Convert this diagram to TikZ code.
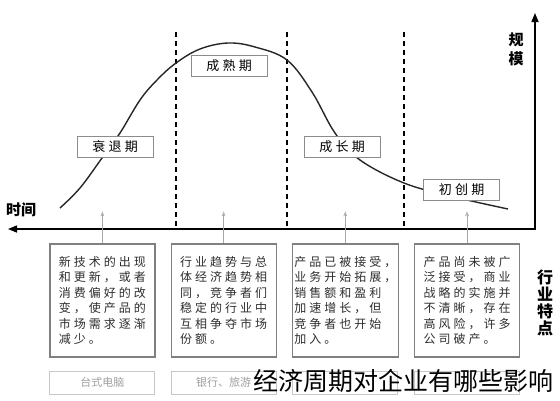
\documentclass[tikz,border=0pt]{standalone}
\usepackage{fontspec}
\newfontfamily\cjk{Noto Sans CJK SC}
\newfontfamily\cjkspaced[LetterSpace=25]{Noto Sans CJK SC}
\usetikzlibrary{arrows.meta,positioning}
\tikzset{
  stagebox/.style={draw=black!45, fill=white, minimum width=76pt, minimum height=21pt, inner sep=0pt, font=\cjkspaced\fontsize{13}{15}\selectfont},
  descbox/.style={draw=black!50, line width=1.2pt, fill=white, minimum width=105pt, minimum height=113pt, align=left, inner xsep=2pt, text=black!82, font=\cjkspaced\fontsize{12}{15.5}\selectfont},
  ghostbox/.style={draw=black!22, line width=1pt, minimum width=105pt, minimum height=23pt, text=black!38, font=\cjk\fontsize{11}{13}\selectfont},
  hintarrow/.style={-{Stealth[length=5pt,width=4pt,open]}, draw=black!35, line width=0.5pt},
  axisline/.style={{Triangle[length=9pt,width=7pt]}-{Triangle[length=9pt,width=7pt]}, line width=1.4pt},
  phase/.style={dashed, dash pattern=on 5pt off 4pt, line width=1.8pt},
  trend/.style={line width=1.4pt, draw=black!85},
  axislabel/.style={align=center, font=\cjk\bfseries\fontsize{15}{16}\selectfont},
}
\begin{document}
\begin{tikzpicture}[x=1pt, y=-1pt]
    \useasboundingbox (0,0) rectangle (560,400);
    % axes
    \coordinate (origin) at (535,229);
    \coordinate (ytop) at (535,13);
    \coordinate (xend) at (8,229);
    \draw[axisline] (ytop) -- (origin) -- (xend);
    \node[axislabel] (time) at (21,210) {时间};
    \node[axislabel, font=\cjk\bfseries\fontsize{15}{19}\selectfont] (scale) at (516,49) {规\\模};
    \node[axislabel, font=\cjk\bfseries\fontsize{16}{17}\selectfont] (traits) at (545,303) {行\\业\\特\\点};
    % phase borders
    \foreach \x in {176,287,404}
        \draw[phase] (\x,32) -- (\x,229);
    % life cycle curve
    \draw[trend] plot[smooth, tension=0.6] coordinates {(60,208) (80,188) (102,158) (120,133) (140,100) (157,80) (176,63) (200,49) (228,43) (255,47) (287,60) (312,92) (335,133) (360,160) (404,183) (450,196) (508,209)};
    % stage labels
    \node[stagebox] (decline) at (115,146.5) {衰退期};
    \node[stagebox] (mature) at (229,65.5) {成熟期};
    \node[stagebox] (growth) at (342,146.5) {成长期};
    \node[stagebox] (startup) at (461.5,190) {初创期};
    % stage traits
    \node[descbox] (desc4) at (467,300.5) {产品尚未被广\\泛接受，商业\\战略的实施并\\不清晰，存在\\高风险，许多\\公司破产。};
    \node[descbox, left=15pt of desc4] (desc3) {产品已被接受，\\业务开始拓展，\\销售额和盈利\\加速增长，但\\竞争者也开始\\加入。};
    \node[descbox, left=15pt of desc3] (desc2) {行业趋势与总\\体经济趋势相\\同，竞争者们\\稳定的行业中\\互相争夺市场\\份额。};
    \node[descbox, left=15pt of desc2] (desc1) {新技术的出现\\和更新，或者\\消费偏好的改\\变，使产品的\\市场需求逐渐\\减少。};
    \foreach \d in {1,2,3,4} {
        \coordinate (tip\d) at ([yshift=32pt]desc\d.north);
        \draw[hintarrow] (desc\d.north) -- (tip\d);
    }
    % faded examples
    \node[ghostbox, below=13pt of desc1] (ex1) {台式电脑};
    \node[ghostbox, below=13pt of desc2] (ex2) {银行、旅游};
    \node[ghostbox, below=13pt of desc3] (ex3) {};
    \node[ghostbox, below=13pt of desc4] (ex4) {};
    % caption
    \node[anchor=west, inner sep=0pt, font=\cjk\fontsize{25}{25}\selectfont] (caption) at (253,381) {经济周期对企业有哪些影响};
\end{tikzpicture}
\end{document}
